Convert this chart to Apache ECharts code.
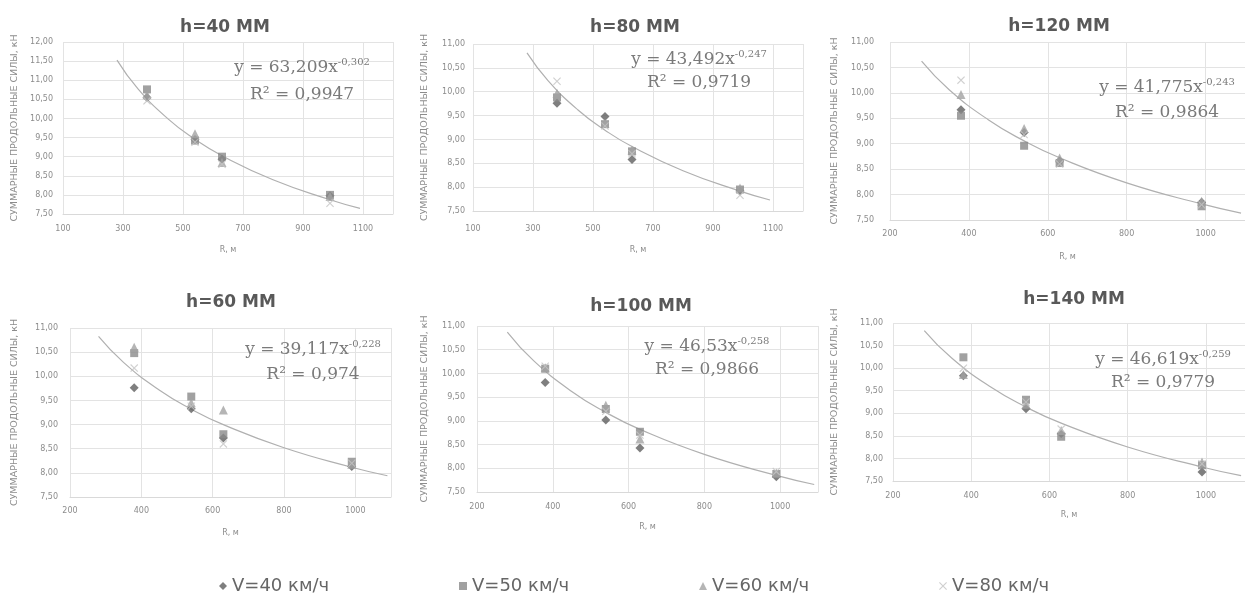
<!DOCTYPE html>
<html><head><meta charset="utf-8">
<script src="https://cdn.jsdelivr.net/npm/echarts@6/dist/echarts.min.js"></script>
<style>html,body{margin:0;padding:0;background:#fff}#c{width:1245px;height:599px}</style>
</head><body><div id="c"></div>
<script>
// ---------- DATA ----------
const panelTitles = ['h=40 ММ', 'h=80 ММ', 'h=120 ММ', 'h=60 ММ', 'h=100 ММ', 'h=140 ММ'];
const seriesNames = ['V=40 км/ч', 'V=50 км/ч', 'V=60 км/ч', 'V=80 км/ч'];
const radii = [380, 540, 630, 990];

const h40_V40 = [10.55, 9.45, 8.93, 7.98];
const h40_V50 = [10.76, 9.42, 9.00, 8.00];
const h40_V60 = [10.62, 9.60, 8.85, 7.96];
const h40_V80 = [10.46, 9.38, 8.80, 7.78];

const h80_V40 = [9.76, 9.48, 8.58, 7.92];
const h80_V50 = [9.88, 9.32, 8.75, 7.95];
const h80_V60 = [9.97, 9.34, 8.78, 7.98];
const h80_V80 = [10.22, 9.28, 8.70, 7.83];

const h120_V40 = [9.67, 9.22, 8.66, 7.85];
const h120_V50 = [9.55, 8.96, 8.62, 7.77];
const h120_V60 = [9.97, 9.30, 8.72, 7.87];
const h120_V80 = [10.25, 9.18, 8.60, 7.80];

const h60_V40 = [9.76, 9.33, 8.72, 8.13];
const h60_V50 = [10.48, 9.58, 8.80, 8.23];
const h60_V60 = [10.60, 9.45, 9.30, 8.18];
const h60_V80 = [10.17, 9.38, 8.60, 8.20];

const h100_V40 = [9.81, 9.02, 8.43, 7.82];
const h100_V50 = [10.10, 9.25, 8.77, 7.88];
const h100_V60 = [10.12, 9.33, 8.62, 7.90];
const h100_V80 = [10.15, 9.20, 8.70, 7.93];

const h140_V40 = [9.83, 9.10, 8.55, 7.70];
const h140_V50 = [10.24, 9.30, 8.48, 7.85];
const h140_V60 = [9.86, 9.20, 8.62, 7.92];
const h140_V80 = [10.00, 9.25, 8.65, 7.88];

// power trend lines
const trendX = [280, 350, 450, 540, 630, 800, 990, 1090];
const trend_h40 = [11.527, 10.776, 9.989, 9.453, 9.024, 8.396, 7.873, 7.647];
const trend_h80 = [10.813, 10.234, 9.617, 9.194, 8.851, 8.344, 7.916, 7.730];
const trend_h120 = [10.623, 10.062, 9.467, 9.056, 8.723, 8.231, 7.816, 7.635];
const trend_h60 = [10.825, 10.288, 9.715, 9.319, 8.998, 8.521, 8.116, 7.940];
const trend_h100 = [10.873, 10.265, 9.621, 9.179, 8.821, 8.294, 7.850, 7.658];
const trend_h140 = [10.833, 10.225, 9.581, 9.139, 8.781, 8.254, 7.811, 7.619];

const eqCoef = ['63,209', '43,492', '41,775', '39,117', '46,53', '46,619'];
const eqPow = ['-0,302', '-0,247', '-0,243', '-0,228', '-0,258', '-0,259'];
const eqR2 = ['0,9947', '0,9719', '0,9864', '0,974', '0,9866', '0,9779'];

const xAxisName = 'R, м';
const yAxisName = 'СУММАРНЫЕ ПРОДОЛЬНЫЕ СИЛЫ, кН';

// ---------- ASSEMBLY ----------
const panelValues = [
  [h40_V40, h40_V50, h40_V60, h40_V80],
  [h80_V40, h80_V50, h80_V60, h80_V80],
  [h120_V40, h120_V50, h120_V60, h120_V80],
  [h60_V40, h60_V50, h60_V60, h60_V80],
  [h100_V40, h100_V50, h100_V60, h100_V80],
  [h140_V40, h140_V50, h140_V60, h140_V80]
];
const panelTrends = [trend_h40, trend_h80, trend_h120, trend_h60, trend_h100, trend_h140];

const layout = [
  {left: 63, top: 42, width: 330, height: 172, xMin: 100, xMax: 1200, yMax: 12, xMargin: 11, yMargin: 10, yGap: 43, xGap: 32, title: [225, 28], eq: [302, 68, 95]},
  {left: 473, top: 44, width: 330, height: 167, xMin: 100, xMax: 1200, yMax: 11, xMargin: 14, yMargin: 8, yGap: 43, xGap: 35, title: [635, 28], eq: [699, 60, 83]},
  {left: 890, top: 42, width: 355, height: 178, xMin: 200, xMax: 1100, yMax: 11, xMargin: 10, yMargin: 16, yGap: 50, xGap: 33, title: [1059, 27], eq: [1167, 88, 113]},
  {left: 70, top: 328, width: 321, height: 169, xMin: 200, xMax: 1100, yMax: 11, xMargin: 10, yMargin: 12, yGap: 50, xGap: 32, title: [231, 303], eq: [313, 350, 375]},
  {left: 477, top: 326, width: 341, height: 166, xMin: 200, xMax: 1100, yMax: 11, xMargin: 11, yMargin: 12, yGap: 47, xGap: 31, title: [641, 307], eq: [707, 347, 370]},
  {left: 893, top: 323, width: 357, height: 158, xMin: 200, xMax: 1100, yMax: 11, xMargin: 11, yMargin: 10, yGap: 53, xGap: 30, title: [1074, 300], eq: [1163, 360, 383]}
];

const crossPath = 'path://M0,1L1,0L5,4L9,0L10,1L6,5L10,9L9,10L5,6L1,10L0,9L4,5Z';
const symbols = ['diamond', 'rect', 'triangle', crossPath];
const symbolSizes = [9, 8, 9, 8];
const colors = ['#5f5f5f', '#8a8a8a', '#a3a3a3', '#c4c4c4'];
const legendX = [219, 459, 699, 939];

const SANS = 'DejaVu Sans';
const labelColor = '#8c8c8c';
const gridColor = '#e3e3e3';

const grids = [], xAxes = [], yAxes = [], series = [], graphics = [];
layout.forEach((L, p) => {
  grids.push({left: L.left, top: L.top, width: L.width, height: L.height, containLabel: false});
  xAxes.push({
    type: 'value', gridIndex: p, min: L.xMin, max: L.xMax, interval: 200,
    axisLine: {show: true, lineStyle: {color: '#d9d9d9'}},
    axisTick: {show: false},
    axisLabel: {showMaxLabel: false, margin: L.xMargin, fontSize: 8, fontFamily: SANS, color: labelColor,
      formatter: v => String(v)},
    splitLine: {show: true, lineStyle: {color: gridColor, width: 1}},
    name: xAxisName, nameLocation: 'middle', nameGap: L.xGap,
    nameTextStyle: {fontSize: 8, fontFamily: SANS, color: labelColor}
  });
  yAxes.push({
    type: 'value', gridIndex: p, min: 7.5, max: L.yMax, interval: 0.5,
    axisLine: {show: false}, axisTick: {show: false},
    axisLabel: {margin: L.yMargin, fontSize: 8, fontFamily: SANS, color: labelColor,
      formatter: v => v.toFixed(2).replace('.', ',')},
    splitLine: {show: true, lineStyle: {color: gridColor, width: 1}},
    name: yAxisName, nameLocation: 'middle', nameGap: L.yGap,
    nameTextStyle: {fontSize: 9.5, fontFamily: SANS, color: labelColor}
  });
  series.push({
    type: 'line', xAxisIndex: p, yAxisIndex: p, silent: true, showSymbol: false, smooth: true,
    data: trendX.map((x, i) => [x, panelTrends[p][i]]),
    lineStyle: {color: '#b0b0b0', width: 1.2}, z: 1
  });
  panelValues[p].forEach((vals, s) => {
    series.push({
      type: 'scatter', name: seriesNames[s], xAxisIndex: p, yAxisIndex: p,
      symbol: symbols[s], symbolSize: symbolSizes[s],
      itemStyle: {color: colors[s]},
      data: radii.map((r, i) => [r, vals[i]]), z: 3
    });
  });
  graphics.push({
    type: 'text', x: L.title[0], y: L.title[1], z: 10,
    style: {text: panelTitles[p], fontSize: 17, fontWeight: 'bold', fontFamily: SANS, fill: '#595959',
      align: 'center', verticalAlign: 'middle', textAlign: 'center', textVerticalAlign: 'middle'}
  });
  graphics.push({
    type: 'text', x: L.eq[0], y: L.eq[1], z: 10,
    style: {text: '{m|y = ' + eqCoef[p] + 'x}{s|' + eqPow[p] + '}',
      align: 'center', verticalAlign: 'middle', textAlign: 'center', textVerticalAlign: 'middle',
      rich: {
        m: {fontSize: 17, fontFamily: 'DejaVu Serif', fill: '#7a7a7a', lineHeight: 22},
        s: {fontSize: 10, fontFamily: 'DejaVu Serif', fill: '#7a7a7a', lineHeight: 12, verticalAlign: 'top'}
      }}
  });
  graphics.push({
    type: 'text', x: L.eq[0], y: L.eq[2], z: 10,
    style: {text: 'R² = ' + eqR2[p], fontSize: 17, fontFamily: 'DejaVu Serif', fill: '#7a7a7a',
      align: 'center', verticalAlign: 'middle', textAlign: 'center', textVerticalAlign: 'middle'}
  });
});

const legends = seriesNames.map((n, i) => ({
  data: [{name: n, icon: symbols[i]}], left: legendX[i], top: 577, padding: 0,
  itemWidth: 8, itemHeight: 8, itemGap: 0, selectedMode: false,
  textStyle: {fontFamily: SANS, fontSize: 18, color: '#666666'}
}));

const chart = echarts.init(document.getElementById('c'), null, {renderer: 'canvas'});
chart.setOption({
  animation: false,
  backgroundColor: '#ffffff',
  grid: grids, xAxis: xAxes, yAxis: yAxes, series: series,
  legend: legends, graphic: graphics
});
</script></body></html>
